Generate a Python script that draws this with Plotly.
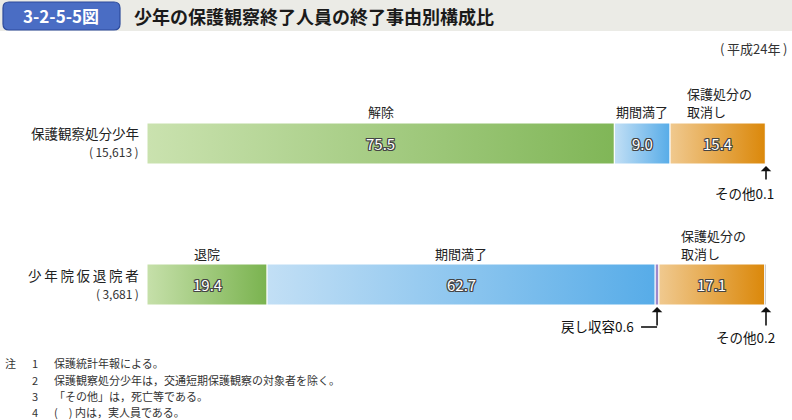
import plotly.graph_objects as go

# ---------------- data ----------------
categories = ["保護観察処分少年", "少年院仮退院者"]
category_counts = ["(15,613)", "(3,681)"]

probation_labels = ["解除", "期間満了", "保護処分の<br>取消し", "その他"]
probation_values = [75.5, 9.0, 15.4, 0.1]

training_labels = ["退院", "期間満了", "戻し収容", "保護処分の<br>取消し", "その他"]
training_values = [19.4, 62.7, 0.6, 17.1, 0.2]

year_label = "(平成24年)"
fig_no = "3-2-5-5図"
title = "少年の保護観察終了人員の終了事由別構成比"
notes = [
    ("注", "1", "保護統計年報による。"),
    ("", "2", "保護観察処分少年は，交通短期保護観察の対象者を除く。"),
    ("", "3", "「その他」は，死亡等である。"),
    ("", "4", "(　) 内は，実人員である。"),
]

# ---------------- styles ----------------
FONT = "Noto Sans CJK JP"
W, H = 792, 420
GRAD = {
    "解除": ("#cae2af", "#80b657"),
    "退院": ("#c6e0aa", "#7ab34f"),
    "期間満了": ("#c2dff5", "#57ace8"),
    "保護処分の<br>取消し": ("#f0c98f", "#db880a"),
    "戻し収容": ("#9d89cb", "#9d89cb"),
    "その他": ("#777777", "#777777"),
}


def PX(x):
    return x / W


def PY(y):
    return 1 - y / H


S = 141.0  # px per y unit
YMAX = 1 + 143.5 / S
YMIN = YMAX - H / S
HALF = 20.5 / S
XSCALE = 619 / 100.0  # px per percent
LBL = 13

fig = go.Figure()
annotations = []
shapes = []

rows = [(1, probation_labels, probation_values), (0, training_labels, training_values)]
label_y_px = {1: (93, 112), 0: (235, 253)}
OC = "#444444"
OUTLINE = (f"-1px -1px 0 {OC}, 1px -1px 0 {OC}, -1px 1px 0 {OC}, 1px 1px 0 {OC}, "
           f"0 -1px 0 {OC}, 0 1px 0 {OC}, -1px 0 0 {OC}, 1px 0 0 {OC}")

for yv, labels, values in rows:
    start = 0.0
    for lab, val in zip(labels, values):
        x0, x1 = start, start + val
        c0, c1 = GRAD[lab]
        fig.add_trace(go.Scatter(
            x=[x0, x1, x1, x0, x0],
            y=[yv - HALF, yv - HALF, yv + HALF, yv + HALF, yv - HALF],
            mode="lines", fill="toself",
            fillgradient=dict(type="horizontal", colorscale=[[0, c0], [1, c1]]),
            line=dict(color="white", width=1),
            hoverinfo="skip", showlegend=False,
        ))
        mid = (x0 + x1) / 2
        if val >= 1:
            annotations.append(dict(
                x=mid, y=yv, xref="x", yref="y", text=f"{val:.1f}", showarrow=False,
                font=dict(family=FONT, size=15, color="white", shadow=OUTLINE),
            ))
            lines = lab.split("<br>")
            ys = label_y_px[yv][-len(lines):]
            widest = max(len(s) for s in lines) * LBL
            for ln, ypx in zip(lines, ys):
                if len(lines) == 1:
                    annotations.append(dict(
                        x=mid, y=PY(ypx), xref="x", yref="paper", text=ln, showarrow=False,
                        xanchor="center", yanchor="middle",
                        font=dict(family=FONT, size=LBL, color="#222")))
                else:
                    annotations.append(dict(
                        x=mid - widest / 2 / XSCALE, y=PY(ypx), xref="x", yref="paper",
                        text=ln, showarrow=False, xanchor="left", yanchor="middle",
                        font=dict(family=FONT, size=LBL, color="#222")))
        start = x1

# category labels
cat_y = {0: (133, 151), 1: (275, 293)}
for i, (cat, cnt) in enumerate(zip(categories, category_counts)):
    txt = cat if i == 0 else "\u2009".join(cat)
    annotations.append(dict(x=PX(141), y=PY(cat_y[i][0]), xref="paper", yref="paper",
                            text=txt, showarrow=False, xanchor="right", yanchor="middle",
                            font=dict(family=FONT, size=13.5, color="#222")))
    annotations.append(dict(x=PX(141), y=PY(cat_y[i][1]), xref="paper", yref="paper",
                            text=cnt.replace("(", "(\u2009").replace(")", "\u2009)"),
                            showarrow=False, xanchor="right", yanchor="middle",
                            font=dict(family=FONT, size=12, color="#333")))

# call-outs for tiny segments
arrow_style = dict(showarrow=True, arrowhead=1, arrowsize=1.1, arrowwidth=1.6,
                   arrowcolor="#111", ax=0, axref="pixel", ayref="pixel")
# その他 (probation)
p_end = sum(probation_values)
annotations.append(dict(x=p_end, y=PY(166), xref="x", yref="paper", text="", ay=15, **arrow_style))
annotations.append(dict(x=p_end - 22 / XSCALE, y=PY(193), xref="x", yref="paper",
                        text=f"その他{probation_values[3]:.1f}", showarrow=False,
                        xanchor="center", yanchor="middle",
                        font=dict(family=FONT, size=13.5, color="#111")))
# 戻し収容 (training)
t_ret = training_values[0] + training_values[1] + training_values[2] / 2
annotations.append(dict(x=t_ret, y=PY(307), xref="x", yref="paper", text="", ay=20, **arrow_style))
shapes.append(dict(type="line", xref="x", yref="paper", x0=t_ret - 16 / XSCALE, x1=t_ret,
                   y0=PY(327), y1=PY(327), line=dict(color="#111", width=1.6)))
annotations.append(dict(x=t_ret - 21 / XSCALE, y=PY(326), xref="x", yref="paper",
                        text=f"戻し収容{training_values[2]:.1f}", showarrow=False,
                        xanchor="right", yanchor="middle",
                        font=dict(family=FONT, size=13.5, color="#111")))
# その他 (training)
t_end = sum(training_values)
annotations.append(dict(x=t_end, y=PY(307), xref="x", yref="paper", text="", ay=20, **arrow_style))
annotations.append(dict(x=t_end - 21 / XSCALE, y=PY(337), xref="x", yref="paper",
                        text=f"その他{training_values[4]:.1f}", showarrow=False,
                        xanchor="center", yanchor="middle",
                        font=dict(family=FONT, size=13.5, color="#111")))

# header
shapes.append(dict(type="rect", xref="paper", yref="paper", x0=0, x1=1, y0=PY(31), y1=PY(0),
                   fillcolor="#ebebe6", line=dict(width=0), layer="below"))
x0b, x1b, y0b, y1b, r = 3, 120, 2, 30, 6
path = (f"M {PX(x0b + r)},{PY(y0b)} L {PX(x1b - r)},{PY(y0b)} "
        f"Q {PX(x1b)},{PY(y0b)} {PX(x1b)},{PY(y0b + r)} L {PX(x1b)},{PY(y1b - r)} "
        f"Q {PX(x1b)},{PY(y1b)} {PX(x1b - r)},{PY(y1b)} L {PX(x0b + r)},{PY(y1b)} "
        f"Q {PX(x0b)},{PY(y1b)} {PX(x0b)},{PY(y1b - r)} L {PX(x0b)},{PY(y0b + r)} "
        f"Q {PX(x0b)},{PY(y0b)} {PX(x0b + r)},{PY(y0b)} Z")
shapes.append(dict(type="path", xref="paper", yref="paper", path=path,
                   fillcolor="#4a6dc4", line=dict(color="#2d4b9c", width=1.2)))
annotations.append(dict(x=PX(61), y=PY(16), xref="paper", yref="paper", text=f"<b>{fig_no}</b>",
                        showarrow=False, xanchor="center", yanchor="middle",
                        font=dict(family=FONT, size=17, color="white")))
annotations.append(dict(x=PX(132), y=PY(16), xref="paper", yref="paper", text=f"<b>{title}</b>",
                        showarrow=False, xanchor="left", yanchor="middle",
                        font=dict(family=FONT, size=18, color="#1a1a1a")))
annotations.append(dict(x=PX(789), y=PY(48), xref="paper", yref="paper",
                        text=year_label.replace("(", "(\u2009").replace(")", "\u2009)"),
                        showarrow=False, xanchor="right", yanchor="middle",
                        font=dict(family=FONT, size=13, color="#333")))

# notes
note_y = [363, 380, 396, 412]
for (a, n, t), yy in zip(notes, note_y):
    if a:
        annotations.append(dict(x=PX(3), y=PY(yy), xref="paper", yref="paper", text=a,
                                showarrow=False, xanchor="left", yanchor="middle",
                                font=dict(family=FONT, size=11, color="#333")))
    annotations.append(dict(x=PX(30), y=PY(yy), xref="paper", yref="paper", text=n,
                            showarrow=False, xanchor="left", yanchor="middle",
                            font=dict(family=FONT, size=11, color="#333")))
    annotations.append(dict(x=PX(52), y=PY(yy), xref="paper", yref="paper", text=t,
                            showarrow=False, xanchor="left", yanchor="middle",
                            font=dict(family=FONT, size=11, color="#333")))

fig.update_layout(
    width=W, height=H,
    margin=dict(l=0, r=0, t=0, b=0),
    paper_bgcolor="white", plot_bgcolor="white",
    xaxis=dict(domain=[147 / W, 766 / W], range=[0, 100], visible=False, fixedrange=True),
    yaxis=dict(domain=[0, 1], range=[YMIN, YMAX], visible=False, fixedrange=True),
    annotations=annotations, shapes=shapes, showlegend=False,
)

fig.write_html("out.html")
